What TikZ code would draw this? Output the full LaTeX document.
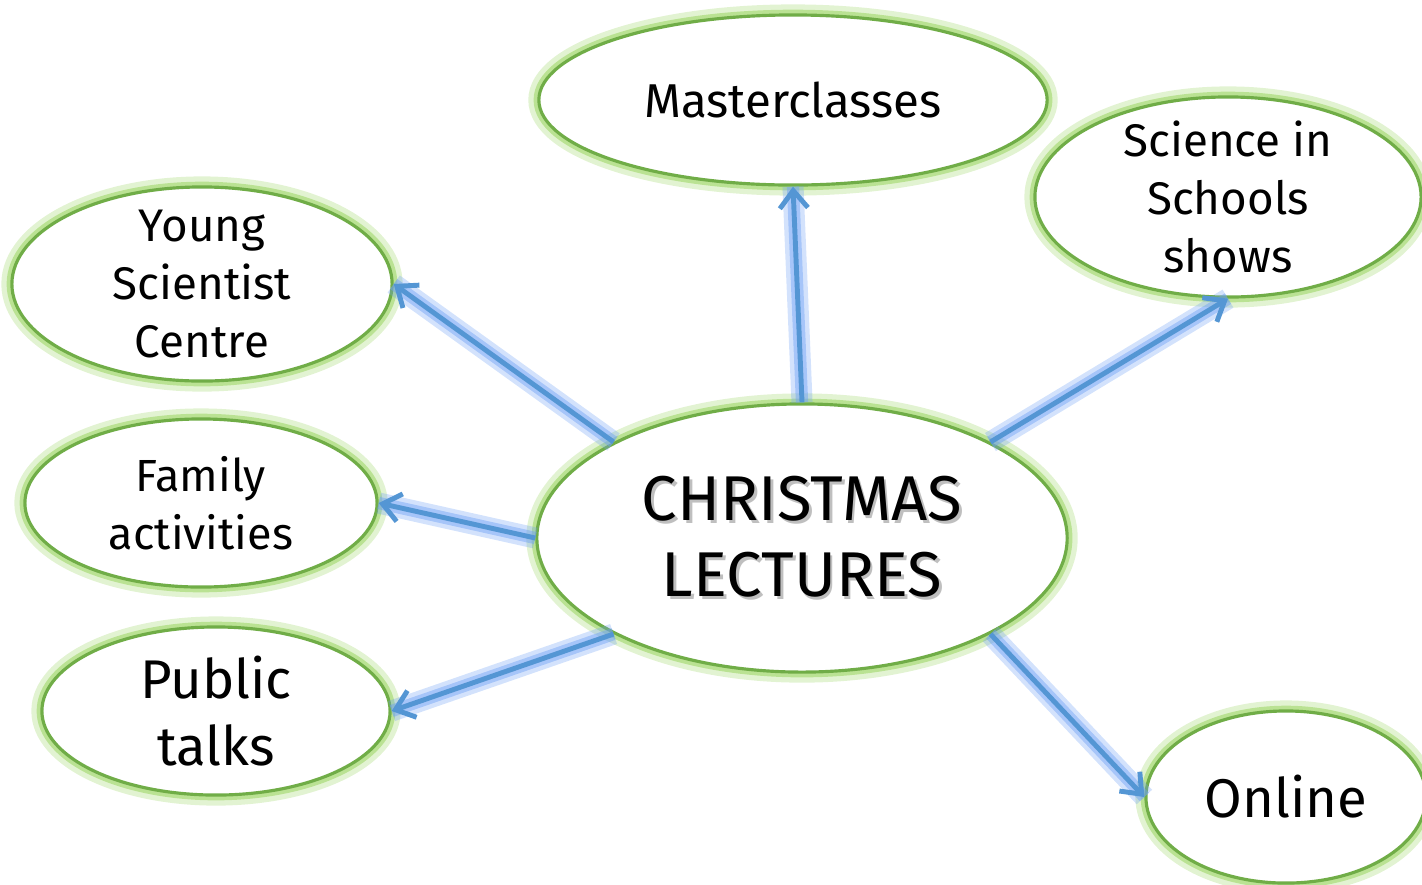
\documentclass[tikz,border=0pt]{standalone}
\usepackage{fontspec}
\setmainfont{Fira Sans}
\usetikzlibrary{shapes.geometric, arrows.meta}

\definecolor{ringgreen}{RGB}{112,173,71}
\definecolor{glowgreen}{RGB}{160,215,105}
\definecolor{linkblue}{RGB}{84,150,212}
\definecolor{glowblue}{RGB}{110,160,245}

% text with a soft drop shadow
\newcommand{\shadowline}[1]{\rlap{\kern0.8pt\raisebox{-0.8pt}{\color{black!25}#1}}#1}

\tikzset{
    bubble/.style={ellipse, draw=ringgreen, line width=0.9pt, fill=white,
        inner sep=-8pt, align=center,
        preaction={draw=glowgreen, line width=6pt, opacity=0.3},
        preaction={draw=glowgreen, line width=3pt, opacity=0.6}},
    link/.style={draw=linkblue, line width=1.4pt,
        -{Straight Barb[length=5pt, width=8pt, line width=1.4pt]},
        preaction={draw=glowblue, line width=6pt, opacity=0.3, -},
        preaction={draw=glowblue, line width=3.5pt, opacity=0.45, -}},
}

\begin{document}
\begin{tikzpicture}[x=0.01cm, y=-0.01cm]

    \useasboundingbox (0,0) rectangle (1422,884);

    % Centre
    \node[bubble, minimum width=5.3cm, minimum height=2.68cm,
        font=\fontsize{18}{21.5}\selectfont] (lectures) at (802,538)
        {\shadowline{CHRISTMAS}\\\shadowline{LECTURES}};

    % Outer bubbles
    \node[bubble, minimum width=5.08cm, minimum height=1.7cm,
        font=\fontsize{13.5}{16.5}\selectfont] (master) at (793,100) {Masterclasses};
    \node[bubble, minimum width=3.86cm, minimum height=2cm,
        font=\fontsize{13}{16.5}\selectfont] (schools) at (1228,197)
        {Science in\\Schools\\shows};
    \node[bubble, minimum width=3.8cm, minimum height=1.94cm,
        font=\fontsize{13}{16.5}\selectfont] (young) at (202,284)
        {Young\\Scientist\\Centre};
    \node[bubble, minimum width=3.52cm, minimum height=1.68cm,
        font=\fontsize{12.8}{16.5}\selectfont] (family) at (201,503)
        {Family\\activities};
    \node[bubble, minimum width=3.48cm, minimum height=1.68cm,
        font=\fontsize{15.5}{19}\selectfont] (public) at (216,711)
        {Public\\talks};
    \node[bubble, minimum width=2.8cm, minimum height=1.72cm,
        font=\fontsize{15.5}{19}\selectfont] (online) at (1286,797) {Online};

    % Links
    \draw[link] (lectures.north) -- (master.south);
    \draw[link] (lectures.153) -- (young.east);
    \draw[link] (lectures.27) -- (schools.south);
    \draw[link] (lectures.west) -- (family.east);
    \draw[link] (lectures.207) -- (public.east);
    \draw[link] (lectures.333) -- (online.west);

\end{tikzpicture}
\end{document}
